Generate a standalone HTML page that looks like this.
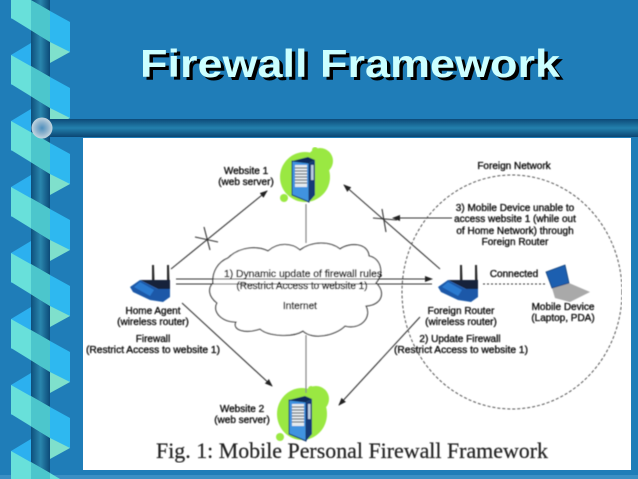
<!DOCTYPE html>
<html><head><meta charset="utf-8"><style>
html,body{margin:0;padding:0;background:#1f7db8;width:638px;height:479px;overflow:hidden}
svg{display:block;overflow:hidden}
text{font-family:"Liberation Sans",sans-serif}
</style></head><body>
<svg xmlns="http://www.w3.org/2000/svg" width="638" height="479" viewBox="0 0 638 479">
<defs>
<linearGradient id="pole" x1="0" x2="1" y1="0" y2="0"><stop offset="0" stop-color="#0d4f7c"/><stop offset=".5" stop-color="#2a86ad"/><stop offset="1" stop-color="#0c4a78"/></linearGradient>
<linearGradient id="bar" x1="0" x2="0" y1="0" y2="1"><stop offset="0" stop-color="#0d4a78"/><stop offset=".5" stop-color="#2380ad"/><stop offset="1" stop-color="#0b4673"/></linearGradient>
<radialGradient id="ball"><stop offset="0" stop-color="#4f8fbd"/><stop offset=".6" stop-color="#93b6cf"/><stop offset="1" stop-color="#c4d6e0"/></radialGradient>
<filter id="b" x="0" y="0" width="100%" height="100%"><feGaussianBlur stdDeviation=".4"/></filter>
<g id="back">
<polygon points="11,55 31,43 31,74 11,85" fill="#2cb0ef"/>
<polygon points="50,33 70,22 70,52 50,63" fill="#7fe0cc"/>
</g>
<g id="front">
<polygon points="11,55 50,77 50,108 11,84" fill="#68e0da"/>
<polygon points="31,66 50,77 50,108 31,96" fill="#4cc6cc"/>
<polygon points="50,77 70,88 70,118 50,108" fill="#2eb8f0"/>
</g>
<g id="server">
<polygon points="0,4 17,6 17,45 0,38" fill="#3f93e0" stroke="#10305f" stroke-width="1"/>
<polygon points="17,6 23,3 23,38 17,45" fill="#123a78"/>
<polygon points="0,4 16,0 23,3 17,6" fill="#0e2c5c"/>
<rect x="3" y="8" width="12" height="22" fill="#e4eaee"/>
<path d="M3 11h12M3 14h12M3 17h12M3 20h12M3 23h12M3 26h12" stroke="#37424d" stroke-width="1"/>
<rect x="19" y="8" width="2.5" height="15" fill="#b8cce0"/>
</g>
<g id="router">
<polygon points="22,0 24,0 24.5,16 22,16" fill="#2b2b2b"/>
<polygon points="37,0 39,0 39.5,16 37,16" fill="#2b2b2b"/>
<polygon points="10,15 40,15 40,24 28,24" fill="#15233a"/>
<polygon points="0,22 10,15 28,24 40,24 40,32 33,37 20,35 3,27" fill="#1a59a8"/>
<polygon points="4,22 10,17 24,25 20,31" fill="#2c7ad0"/>
</g>
<marker id="ar" viewBox="0 0 8 6" refX="7" refY="3" markerWidth="8" markerHeight="6" markerUnits="userSpaceOnUse" orient="auto"><path d="M0 0L8 3L0 6z" fill="#222"/></marker>
</defs>

<rect width="638" height="479" fill="#1f7db8"/>
<rect y="475" width="638" height="4" fill="#3a8fc4"/>

<!-- ribbon -->
<use href="#back" y="-66"/><use href="#back" y="0"/><use href="#back" y="66"/><use href="#back" y="132"/><use href="#back" y="198"/><use href="#back" y="264"/><use href="#back" y="330"/>
<polygon points="11,451 31,439 31,470 15,479 11,479" fill="#2cb0ef"/>
<polygon points="50,429 70,418 70,448 50,459" fill="#7fe0cc"/>
<rect x="31" y="0" width="19" height="479" fill="url(#pole)"/>
<use href="#front" y="-132"/><use href="#front" y="-66"/><use href="#front" y="0"/><use href="#front" y="66"/><use href="#front" y="132"/><use href="#front" y="198"/><use href="#front" y="264"/><use href="#front" y="330"/>
<polygon points="11,451 50,473 60,479 11,479" fill="#68e0da"/>
<polygon points="31,462 50,473 50,479 31,479" fill="#4cc6cc"/>

<!-- bar -->
<rect x="46" y="119" width="592" height="18" fill="url(#bar)"/>
<circle cx="42" cy="128" r="10.5" fill="url(#ball)"/>

<!-- title -->
<text x="140" y="77" font-size="39" font-weight="700" fill="#ccffff" textLength="420" lengthAdjust="spacingAndGlyphs" style="text-shadow:3px 3px 0 #000">Firewall Framework</text>

<!-- panel -->
<rect x="83" y="138" width="548" height="332" fill="#fff"/>

<g filter="url(#b)">
<!-- cloud -->
<path d="M228 258C240 246 258 246 268 251C278 242 292 243 300 250C312 241 330 241 340 249C350 242 368 243 369 256C380 258 385 272 376 283C386 292 382 305 366 306C372 318 360 330 345 326C335 336 312 340 303 331C292 338 268 336 260 329C245 334 232 330 236 322C222 322 212 312 217 303C208 296 208 288 213 283C212 272 218 262 228 258Z" fill="#fff" stroke="#222" stroke-width="1.1"/>

<!-- blobs -->
<ellipse cx="305" cy="177" rx="25" ry="25" fill="#9ae843"/>
<circle cx="320" cy="161" r="13" fill="#9ae843"/><circle cx="315" cy="150" r="3" fill="#9ae843"/><circle cx="284" cy="198" r="4" fill="#9ae843"/>
<ellipse cx="302" cy="414" rx="25" ry="26" fill="#9ae843"/>
<circle cx="316" cy="399" r="13" fill="#9ae843"/><circle cx="311" cy="389" r="3" fill="#9ae843"/><circle cx="280" cy="437" r="4" fill="#9ae843"/>
<use href="#server" x="292" y="157"/>
<use href="#server" x="289" y="396"/>

<use href="#router" x="130" y="265"/>
<use href="#router" x="438" y="265"/>

<!-- laptop -->
<polygon points="552,288 569,283 590,292 570,302 555,298" fill="#a9a9a9"/>
<polygon points="546,272 565,265 569,283 552,288" fill="#1a5fb0" stroke="#123f78" stroke-width=".8"/>

<!-- lines -->
<g stroke="#333" fill="none" stroke-width="1.1">
<path d="M306 204V243M306 335V393" stroke="#888" stroke-width="1.2"/>
<path d="M171 269L267 191" marker-end="url(#ar)"/>
<path d="M195 237L218 242M204 227L210 250M373 218L397 220M382 209L386 232"/>
<path d="M440 269L344 185" marker-end="url(#ar)"/>
<path d="M452 218H393" marker-end="url(#ar)"/>
<path d="M176 279H432" marker-end="url(#ar)"/>
<path d="M176 284H432"/>
<path d="M182 303L272 386" marker-end="url(#ar)"/>
<path d="M420 317L339 405" marker-end="url(#ar)"/>
<path d="M483 284H545" stroke-dasharray="2 2"/>
<ellipse cx="512" cy="292" rx="110" ry="117" stroke-dasharray="3 2" stroke="#555" stroke-width="1"/>
</g>

<!-- labels -->
<g font-size="10" fill="#111" text-anchor="middle" stroke="#111" stroke-width=".35">
<text x="246" y="174">Website 1</text>
<text x="246" y="185">(web server)</text>
<text x="303" y="277" textLength="158" lengthAdjust="spacingAndGlyphs">1) Dynamic update of firewall rules</text>
<text x="302" y="289">(Restrict Access to website 1)</text>
<text x="300" y="309">Internet</text>
<text x="153" y="314">Home Agent</text>
<text x="153" y="325">(wireless router)</text>
<text x="153" y="342">Firewall</text>
<text x="153" y="353" textLength="134" lengthAdjust="spacingAndGlyphs">(Restrict Access to website 1)</text>
<text x="242" y="412">Website 2</text>
<text x="242" y="423">(web server)</text>
<text x="514" y="169">Foreign Network</text>
<text x="515" y="211">3) Mobile Device unable to</text>
<text x="515" y="222">access website 1 (while out</text>
<text x="515" y="234">of Home Network) through</text>
<text x="515" y="245">Foreign Router</text>
<text x="514" y="277">Connected</text>
<text x="563" y="310">Mobile Device</text>
<text x="563" y="321">(Laptop, PDA)</text>
<text x="461" y="314">Foreign Router</text>
<text x="461" y="325">(wireless router)</text>
<text x="460" y="342">2) Update Firewall</text>
<text x="461" y="353" textLength="134" lengthAdjust="spacingAndGlyphs">(Restrict Access to website 1)</text>
</g>
<text x="156" y="458" font-size="22" fill="#222" stroke="#222" stroke-width=".2" textLength="392" lengthAdjust="spacingAndGlyphs" style="font-family:'Liberation Serif',serif">Fig. 1: Mobile Personal Firewall Framework</text>
</g>
</svg>
</body></html>
